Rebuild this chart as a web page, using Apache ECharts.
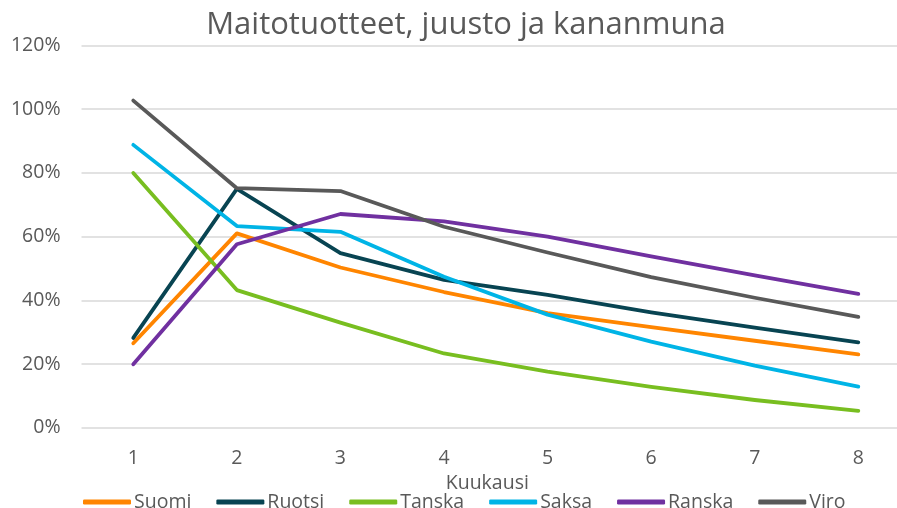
<!DOCTYPE html>
<html>
<head>
<meta charset="utf-8">
<script src="https://cdn.jsdelivr.net/npm/echarts@6/dist/echarts.min.js"></script>
<style>
  html, body { margin: 0; padding: 0; background: #fff; }
  #chart { width: 897px; height: 508px; }
</style>
</head>
<body>
<div id="chart"></div>
<script>
var fontColor = '#595959'
var months = ['1', '2', '3', '4', '5', '6', '7', '8']
var suomi = [26.5, 61, 50.3, 42.6, 36, 31.6, 27.3, 23]
var ruotsi = [28.2, 75, 54.8, 46.4, 41.7, 36.2, 31.4, 26.8]
var tanska = [80, 43.2, 33, 23.3, 17.6, 12.8, 8.7, 5.3]
var saksa = [88.8, 63.3, 61.5, 47.4, 35.5, 27, 19.5, 12.9]
var ranska = [19.9, 57.6, 67.1, 64.8, 60, 53.8, 47.8, 42]
var viro = [102.7, 75.2, 74.3, 63.1, 55, 47.3, 40.8, 34.8]
var yTicks = [0, 20, 40, 60, 80, 100, 120]

var names = ['Suomi', 'Ruotsi', 'Tanska', 'Saksa', 'Ranska', 'Viro']
var colors = ['#FF8500', '#084452', '#78BE20', '#00B4E6', '#7030A0', '#595959']
var values = [suomi, ruotsi, tanska, saksa, ranska, viro]

var chart = echarts.init(document.getElementById('chart'))
var option = {
  animation: false,
  title: {
    text: 'Maitotuotteet, juusto ja kananmuna',
    left: 461,
    textAlign: 'center',
    top: 5,
    textStyle: {
      fontFamily: 'Open Sans',
      fontSize: 31,
      fontWeight: 'normal',
      color: fontColor
    }
  },
  grid: {
    left: 81.5,
    width: 828.6,
    top: 45.5,
    bottom: 80.3,
    outerBoundsMode: 'none',
    containLabel: false
  },
  legend: {
    left: 78,
    top: 487,
    itemWidth: 48,
    itemHeight: 5,
    itemGap: 25,
    icon: 'roundRect',
    textStyle: {
      fontFamily: 'Open Sans',
      fontSize: 19.5,
      color: fontColor,
      padding: [0, 0, 0, -2]
    },
    data: names
  },
  xAxis: {
    type: 'category',
    boundaryGap: true,
    data: months,
    name: 'Kuukausi',
    nameLocation: 'middle',
    nameGap: 42,
    nameTextStyle: {
      fontFamily: 'Open Sans',
      fontSize: 19.5,
      color: fontColor,
      padding: [0, 17, 0, 0]
    },
    axisLine: { show: false },
    axisTick: { show: false },
    axisLabel: {
      fontFamily: 'Open Sans',
      fontSize: 19.5,
      color: fontColor,
      margin: 21
    }
  },
  yAxis: {
    type: 'value',
    min: yTicks[0],
    max: yTicks[yTicks.length - 1],
    interval: 20,
    axisLine: { show: false },
    axisTick: { show: false },
    axisLabel: {
      fontFamily: 'Open Sans',
      fontSize: 19.5,
      color: fontColor,
      margin: 21,
      formatter: '{value}%'
    },
    splitLine: {
      lineStyle: { color: '#D9D9D9', width: 1.5 }
    }
  },
  series: names.map(function (n, i) {
    return {
      name: n,
      type: 'line',
      data: values[i],
      symbol: 'none',
      color: colors[i],
      lineStyle: { width: 3.8, color: colors[i], cap: 'round', join: 'round' }
    }
  })
}
chart.setOption(option)
</script>
</body>
</html>
